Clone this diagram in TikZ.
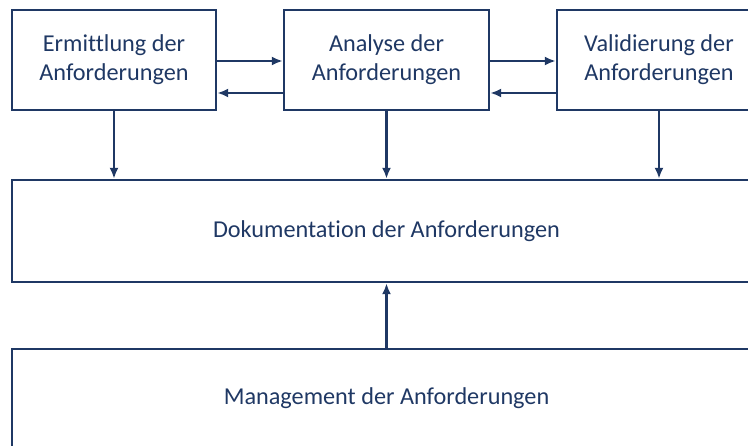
\documentclass[tikz,border=0pt]{standalone}
\usepackage{fontspec}
\setmainfont{Carlito}[RawFeature={-liga}]
\usetikzlibrary{arrows.meta}
\definecolor{navy}{HTML}{1F3864}
\tikzset{
  block/.style={draw=navy,line width=1.4pt,inner sep=0pt,align=center,text=navy,font=\fontsize{13.8}{16.6}\selectfont},
  pfeil/.style={draw=navy,line width=1.4pt,-{Latex[length=2.2mm,width=1.8mm]}}
}
\begin{document}
\begin{tikzpicture}[x=0.02cm,y=-0.02cm]
\useasboundingbox (0,0) rectangle (748,446);
\clip (0,0) rectangle (748,446);

%Aktivitaeten
\node[block,minimum width=4.08cm,minimum height=2cm] (erm) at (114,60) {Ermittlung der\\Anforderungen};
\node[block,minimum width=4.1cm,minimum height=2cm] (ana) at (386.5,60) {Analyse der\\Anforderungen};
\node[block,minimum width=4.08cm,minimum height=2cm] (val) at (659,60) {Validierung der\\Anforderungen};

%Dokumentation und Management
\node[block,minimum width=14.98cm,minimum height=2.04cm] (doku) at (386.5,231) {Dokumentation der Anforderungen};
\node[block,minimum width=14.98cm,minimum height=1.96cm] (mgmt) at (386.5,398) {Management der Anforderungen};

%Pfeile
\draw[pfeil] ([yshift=-0.02cm]erm.east) -- ([yshift=-0.02cm]ana.west);
\draw[pfeil] ([yshift=-0.66cm]ana.west) -- ([yshift=-0.66cm]erm.east);
\draw[pfeil] ([yshift=-0.02cm]ana.east) -- ([yshift=-0.02cm]val.west);
\draw[pfeil] ([yshift=-0.66cm]val.west) -- ([yshift=-0.66cm]ana.east);

\draw[pfeil] (erm.south) -- (erm.south |- doku.north);
\draw[pfeil] (ana.south) -- (ana.south |- doku.north);
\draw[pfeil] (val.south) -- (val.south |- doku.north);
\draw[pfeil] (mgmt.north) -- (doku.south);

\end{tikzpicture}
\end{document}
